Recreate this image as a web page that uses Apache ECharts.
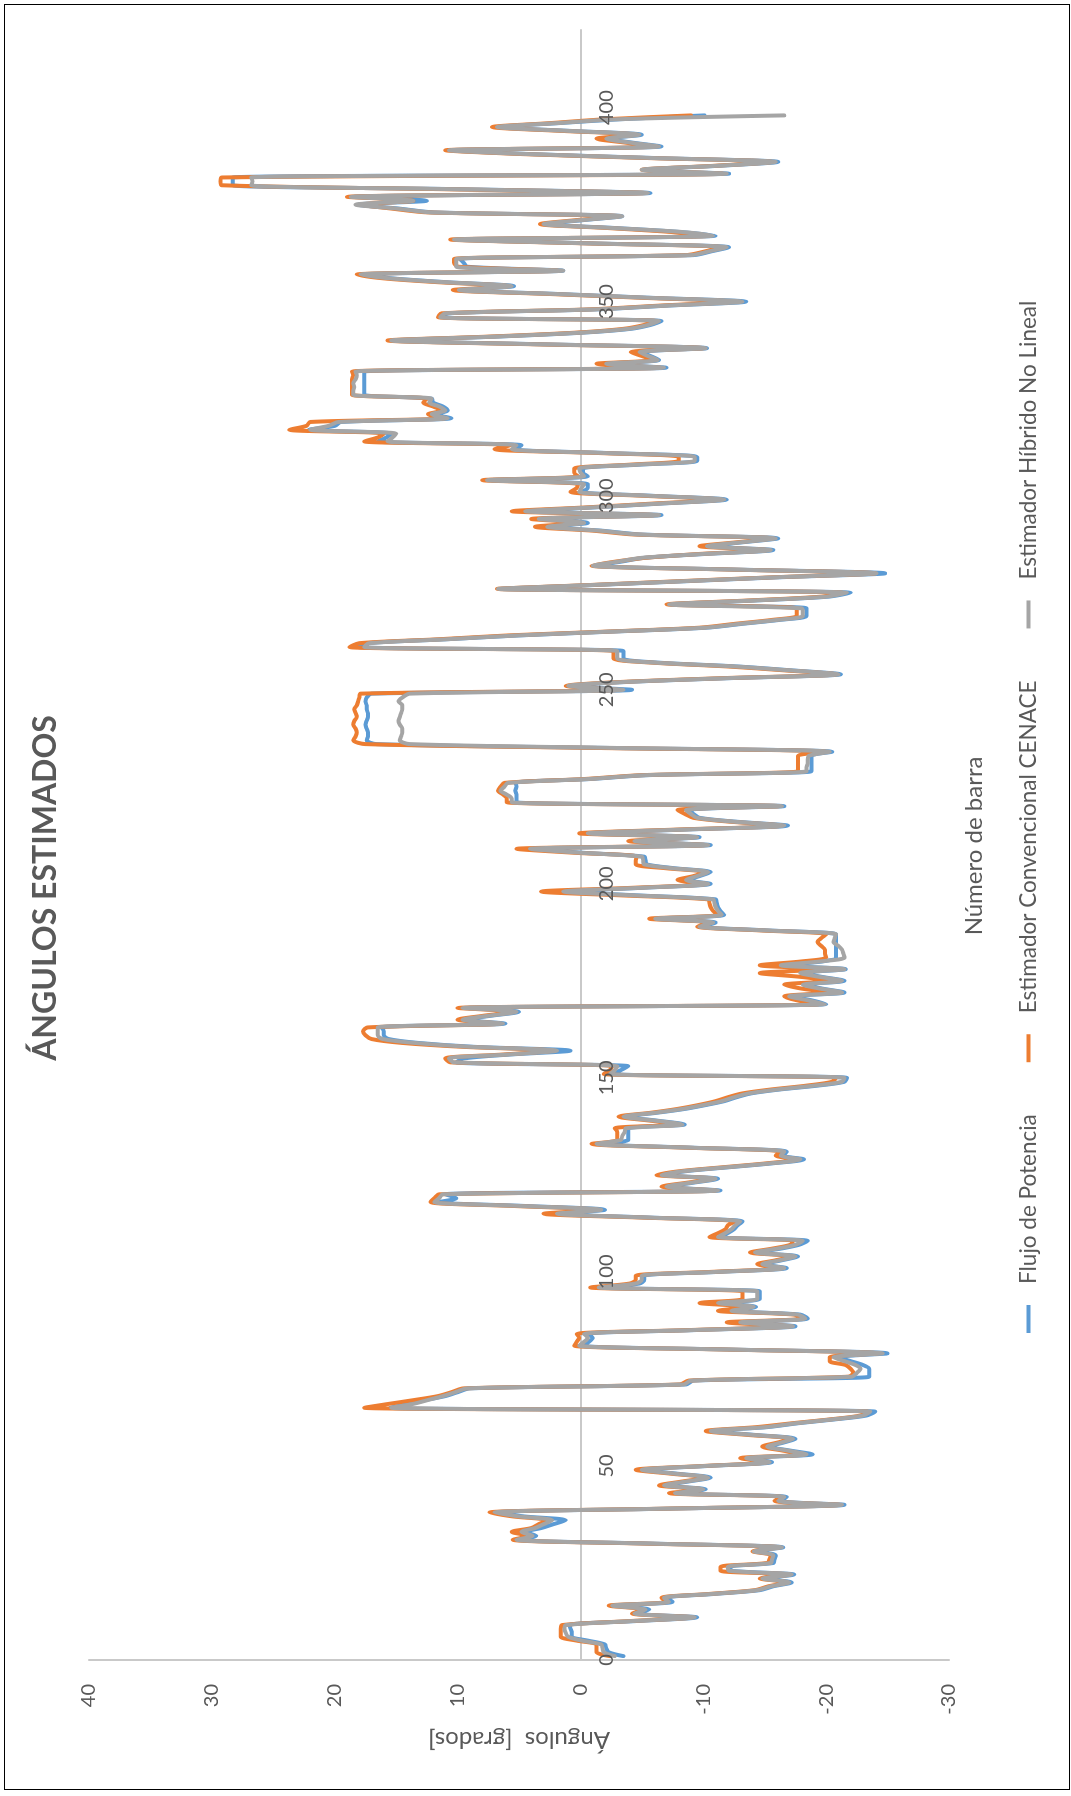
<!DOCTYPE html>
<html>
<head>
<meta charset="utf-8">
<script src="https://cdn.jsdelivr.net/npm/echarts@6/dist/echarts.min.js"></script>
<style>
  html, body { margin: 0; padding: 0; background: #fff; overflow: hidden; width: 1071px; height: 1796px; }
  /* The chart is laid out landscape (1796 x 1071) and turned a quarter turn to stand upright. */
  #chart { position: absolute; left: 0; top: 0; width: 1796px; height: 1071px;
           transform-origin: 0 0; transform: translate(0, 1796px) rotate(-90deg); }
  #frame { position: absolute; left: 4px; top: 4px; width: 1066px; height: 1786px;
           border: 1px solid #000; box-sizing: border-box; pointer-events: none; }
</style>
</head>
<body>
<div id="chart"></div>
<div id="frame"></div>
<script>
// Bus numbers 1..398
const N = 398;
const barras = Array.from({ length: N }, (_, i) => i + 1);

// Axis ticks
const ticksBarra = [0, 50, 100, 150, 200, 250, 300, 350, 400];
const ticksAngulo = [-30, -20, -10, 0, 10, 20, 30, 40];

const nombresSeries = ['Flujo de Potencia', 'Estimador Convencional CENACE', 'Estimador Híbrido No Lineal'];

// Estimated voltage angles [degrees] per bus
const flujoPotencia = [
  -3.5, -2.3, -2.1, -2.0, -0.6, 0.7, 0.7, 0.8, 0.9, -4.3,
  -9.5, -4.6, -5.6, -2.9, -7.5, -7.0, -10.8, -14.6, -15.7, -17.2,
  -15.0, -17.4, -12.3, -12.2, -15.7, -15.8, -15.9, -14.3, -16.5, -5.8,
  5.0, 3.6, 4.5, 3.2, 2.2, 1.2, 4.6, 6.8, -7.2, -21.5,
  -16.3, -16.8, -7.9, -10.2, -7.0, -8.8, -10.6, -7.9, -5.2, -10.4,
  -15.6, -13.7, -18.9, -17.0, -15.4, -16.5, -17.5, -14.2, -10.8, -15.2,
  -17.7, -20.7, -23.3, -24.0, 15.5, 14.0, 12.6, 11.0, 10.0, 9.0,
  -8.6, -9.2, -23.5, -23.5, -23.5, -23.0, -22.0, -21.0, -25.0, -12.2,
  -0.2, -0.7, -1.0, -0.6, -9.2, -17.5, -13.2, -18.5, -17.9, -12.5,
  -14.3, -11.4, -14.6, -14.6, -14.6, -1.8, -4.8, -5.2, -5.2, -11.2,
  -16.8, -15.0, -16.4, -17.7, -14.4, -16.3, -17.8, -18.5, -11.4, -12.0,
  -12.5, -12.8, -13.2, -5.7, 1.6, -2.0, 4.6, 11.5, 10.1, 11.0,
  -11.4, -7.2, -9.2, -11.2, -6.8, -8.7, -12.2, -15.7, -18.2, -16.5,
  -16.8, -9.2, -1.6, -3.9, -3.9, -3.9, -3.9, -8.5, -6.2, -3.7,
  -6.2, -8.5, -10.2, -11.7, -12.7, -13.9, -16.2, -19.3, -21.5, -21.7,
  -2.6, -3.3, -3.9, 10.1, 9.5, 5.8, 0.8, 8.7, 13.2, 15.6,
  16.0, 16.0, 16.2, 6.1, 9.3, 7.3, 5.0, 9.3, -20.0, -18.8,
  -17.2, -21.5, -19.7, -18.3, -21.5, -19.7, -18.1, -21.6, -16.6, -19.7,
  -20.8, -20.8, -20.8, -20.8, -20.8, -20.8, -20.8, -15.2, -9.9, -11.0,
  -6.3, -11.7, -11.4, -11.2, -11.1, -11.0, -4.8, 0.8, -5.2, -10.6,
  -8.8, -9.7, -10.6, -7.7, -5.4, -5.3, -5.2, -0.2, 3.8, -10.6,
  -4.6, -9.7, -0.8, -8.7, -16.9, -12.7, -9.7, -9.2, -8.8, -16.6,
  5.2, 5.2, 5.2, 5.3, 5.2, 5.3, -0.8, -5.5, -18.8, -18.8,
  -18.8, -18.8, -18.8, -20.5, -2.4, 16.6, 17.4, 17.3, 17.3, 17.4,
  17.5, 17.4, 17.3, 17.3, 17.4, 17.4, 17.5, 17.4, 17.0, -4.2,
  0.8, -3.7, -12.2, -21.2, -17.2, -12.8, -6.3, -3.5, -3.5, -3.5,
  18.1, 17.4, 11.0, 5.0, -2.7, -10.3, -13.2, -16.2, -18.4, -18.4,
  -18.4, -7.4, -14.2, -20.2, -22.0, 6.5, -1.2, -8.8, -16.3, -24.8,
  -12.3, -1.2, -3.3, -5.2, -10.2, -15.7, -10.5, -13.2, -16.1, -5.0,
  -1.7, 2.5, -0.6, 3.2, -6.6, 4.3, -1.2, -6.7, -11.9, -5.7,
  -0.1, -0.6, -0.6, 7.3, -0.6, -0.2, -0.2, -4.8, -9.5, -9.5,
  -2.2, 5.3, 4.8, 16.5, 15.8, 15.4, 22.1, 20.0, 19.5, 10.5,
  11.8, 10.8, 11.2, 12.0, 12.1, 17.6, 17.6, 17.6, 17.6, 17.6,
  17.6, 17.6, -7.0, -2.3, -6.4, -5.7, -5.0, -10.3, 2.8, 15.2,
  6.8, -0.1, -4.1, -5.7, -6.6, 11.2, 10.8, -1.2, -7.2, -13.5,
  -5.7, 2.0, 9.7, 5.4, 10.8, 15.3, 17.7, 1.4, 9.2, 9.5,
  9.8, -9.2, -10.7, -12.1, -1.2, 10.1, -11.0, -7.9, -2.7, 2.8,
  -0.2, -3.4, 11.9, 14.8, 18.1, 12.5, 18.5, -5.7, 10.2, 28.3,
  28.3, 28.3, -12.1, -5.2, -11.2, -16.1, -6.2, 3.8, 10.5, -6.6,
  -4.2, -2.3, -5.0, 0.8, 6.6, 1.8, -3.2, -10.1
];

const convencionalCENACE = [
  -2.4, -1.3, -1.3, -1.3, 0.3, 1.6, 1.6, 1.6, 1.5, -3.8,
  -9.1, -4.2, -5.1, -2.3, -7.0, -6.6, -10.4, -14.2, -15.3, -16.8,
  -14.6, -17.0, -11.4, -11.4, -15.2, -15.4, -15.5, -14.0, -16.2, -5.2,
  5.5, 4.3, 5.6, 4.0, 3.4, 2.7, 5.5, 7.4, -6.8, -21.1,
  -15.8, -16.4, -7.2, -9.8, -6.4, -8.3, -10.2, -7.4, -4.5, -10.0,
  -15.2, -13.0, -18.2, -16.4, -14.8, -16.0, -17.1, -13.6, -10.2, -14.3,
  -17.2, -20.3, -22.8, -23.4, 17.6, 15.6, 13.5, 11.6, 10.5, 9.5,
  -8.1, -8.8, -21.8, -22.2, -22.0, -21.6, -20.3, -20.3, -24.2, -11.8,
  0.5, 0.3, 0.1, 0.3, -8.7, -17.0, -11.9, -18.0, -17.4, -11.2,
  -13.6, -9.7, -13.2, -13.2, -13.2, -0.8, -4.0, -4.5, -4.5, -10.6,
  -16.3, -14.4, -15.9, -17.2, -13.8, -15.6, -17.1, -17.3, -10.5, -11.2,
  -11.8, -12.0, -12.6, -5.0, 3.0, -1.2, 5.5, 12.2, 11.9, 11.5,
  -11.0, -6.6, -8.7, -10.8, -6.2, -8.2, -11.7, -15.2, -17.6, -15.9,
  -16.3, -8.7, -0.9, -3.0, -3.0, -3.0, -2.8, -8.0, -5.6, -3.1,
  -5.7, -7.9, -9.6, -11.0, -12.0, -13.2, -15.5, -18.4, -20.5, -20.8,
  -1.9, -2.4, -2.6, 10.6, 11.0, 6.4, 2.3, 9.6, 14.5, 17.0,
  17.5, 17.7, 17.3, 6.6, 10.0, 7.9, 5.6, 10.0, -19.5, -17.6,
  -16.6, -20.2, -18.0, -16.6, -20.2, -18.0, -14.6, -20.0, -14.6, -18.0,
  -20.0, -19.9, -19.9, -19.6, -19.3, -19.6, -20.0, -14.6, -9.5, -10.5,
  -5.6, -11.2, -10.8, -10.6, -10.5, -10.4, -3.5, 3.2, -4.4, -10.2,
  -7.9, -9.2, -10.1, -7.0, -4.5, -4.5, -4.6, 0.5, 5.2, -10.2,
  -3.9, -9.2, 0.1, -8.0, -16.4, -12.2, -9.2, -8.5, -7.9, -16.2,
  6.0, 6.0, 6.3, 6.7, 6.5, 6.2, -0.3, -5.0, -17.7, -17.7,
  -17.7, -17.7, -17.7, -20.0, -1.5, 17.5, 18.5, 18.3, 18.2, 18.3,
  18.5, 18.4, 18.2, 18.3, 18.4, 18.2, 18.1, 18.0, 17.9, -3.0,
  1.2, -3.2, -11.6, -20.8, -16.6, -12.0, -5.8, -2.7, -2.7, -2.7,
  18.8, 18.0, 11.6, 5.9, -2.2, -9.7, -12.6, -15.6, -17.6, -17.6,
  -17.6, -7.0, -13.6, -19.6, -21.4, 6.8, -0.8, -8.2, -15.8, -24.0,
  -11.8, -0.9, -2.8, -5.3, -9.7, -15.2, -9.7, -12.7, -15.6, -4.4,
  -1.0, 3.7, 0.2, 4.0, -6.0, 5.6, -0.5, -6.0, -11.3, -5.0,
  0.8, 0.3, 0.2, 8.0, 0.2, 0.5, 0.5, -4.0, -8.0, -8.0,
  -1.5, 7.0, 5.7, 17.6, 16.5, 16.0, 23.7, 22.3, 22.0, 11.0,
  12.4, 11.3, 12.0, 12.8, 12.5, 18.6, 18.6, 18.6, 18.6, 18.6,
  18.5, 18.6, -6.5, -1.3, -5.9, -5.0, -4.1, -10.0, 3.5, 15.7,
  7.5, 0.5, -3.5, -5.2, -6.2, 11.6, 11.3, -0.6, -6.5, -12.3,
  -5.0, 2.7, 10.4, 5.9, 11.5, 16.0, 18.2, 1.8, 9.9, 10.3,
  10.3, -8.6, -10.2, -11.5, -0.7, 10.6, -10.5, -7.2, -2.1, 3.3,
  0.4, -3.1, 12.4, 15.4, 17.8, 13.6, 19.0, -5.3, 11.5, 29.2,
  29.3, 29.2, -11.6, -5.0, -10.8, -15.6, -5.6, 4.5, 11.0, -6.0,
  -3.6, -1.3, -4.5, 1.5, 7.2, 2.5, -2.0, -9.0
];

const hibridoNoLineal = [
  -2.8, -1.9, -1.8, -1.7, -0.1, 1.0, 1.2, 1.3, 1.2, -4.0,
  -9.3, -4.4, -5.3, -2.6, -7.2, -6.8, -10.6, -14.4, -15.5, -17.0,
  -14.8, -17.2, -12.1, -12.0, -15.5, -15.6, -15.7, -14.1, -16.4, -5.6,
  5.2, 3.9, 4.8, 3.7, 3.0, 2.3, 5.0, 7.0, -7.0, -21.3,
  -16.1, -16.6, -7.7, -10.0, -6.8, -8.6, -10.4, -7.7, -5.0, -10.2,
  -15.4, -13.5, -18.4, -16.8, -15.2, -16.3, -17.3, -14.0, -10.6, -15.0,
  -17.5, -20.5, -23.0, -23.6, 15.4, 13.6, 12.4, 11.2, 10.2, 9.2,
  -8.4, -9.0, -22.1, -22.5, -22.8, -22.4, -21.5, -20.6, -24.6, -12.0,
  0.1, -0.3, -0.6, -0.3, -9.0, -17.3, -13.0, -18.3, -17.7, -12.3,
  -14.1, -11.2, -14.4, -14.4, -14.4, -1.5, -4.5, -5.0, -5.0, -11.0,
  -16.6, -14.8, -16.2, -17.5, -14.2, -16.0, -17.5, -18.1, -11.2, -11.8,
  -12.3, -12.6, -13.0, -5.5, 1.9, -1.7, 5.0, 11.9, 11.5, 11.2,
  -11.2, -7.0, -9.0, -11.0, -6.6, -8.5, -12.0, -15.5, -17.9, -16.3,
  -16.6, -9.0, -1.3, -3.3, -3.4, -3.6, -3.7, -8.3, -6.0, -3.5,
  -6.0, -8.3, -10.0, -11.5, -12.5, -13.7, -16.0, -19.0, -21.3, -21.5,
  -2.4, -2.8, -3.0, 10.3, 10.7, 6.0, 1.9, 9.0, 13.5, 16.1,
  16.5, 16.5, 16.5, 6.3, 9.6, 7.5, 5.2, 9.6, -19.9, -18.5,
  -17.0, -21.3, -19.5, -18.1, -21.3, -19.5, -17.9, -21.5, -16.3, -19.5,
  -21.5, -21.4, -21.3, -21.0, -20.6, -20.7, -20.8, -15.0, -9.7, -10.8,
  -6.1, -11.5, -11.2, -11.0, -10.9, -10.8, -4.5, 1.4, -5.0, -10.4,
  -8.6, -9.5, -10.4, -7.5, -5.2, -5.1, -5.0, 0.0, 4.1, -10.4,
  -4.4, -9.5, -0.6, -8.5, -16.6, -12.5, -9.5, -9.0, -8.6, -16.4,
  5.6, 5.6, 6.0, 6.5, 6.2, 5.9, -0.6, -5.3, -18.4, -18.4,
  -18.5, -18.5, -18.6, -20.3, -3.0, 13.9, 14.7, 14.6, 14.5, 14.5,
  14.7, 14.8, 14.7, 14.6, 14.5, 14.5, 14.8, 14.5, 13.9, -3.5,
  1.0, -3.5, -12.0, -21.0, -17.0, -12.6, -6.0, -3.0, -3.0, -3.0,
  17.6, 17.2, 11.0, 5.2, -2.5, -10.1, -13.0, -16.0, -18.1, -18.1,
  -18.0, -7.2, -14.0, -20.0, -21.7, 6.7, -1.0, -8.5, -16.0, -24.1,
  -12.0, -1.0, -3.0, -5.0, -10.0, -15.5, -10.3, -13.0, -15.9, -4.8,
  -1.5, 2.7, -0.3, 3.4, -6.4, 4.5, -1.0, -6.5, -11.7, -5.5,
  0.1, -0.1, -0.3, 7.6, -0.3, 0.0, 0.1, -4.5, -9.3, -9.3,
  -2.0, 5.6, 5.2, 15.7, 15.3, 15.0, 22.0, 20.5, 19.7, 10.8,
  12.1, 11.0, 11.5, 12.3, 12.1, 18.5, 18.5, 18.4, 18.5, 18.3,
  18.2, 18.3, -6.8, -2.1, -6.3, -5.5, -4.8, -10.2, 3.0, 15.4,
  7.0, 0.1, -3.9, -5.5, -6.4, 11.4, 11.0, -1.0, -7.0, -13.2,
  -5.5, 2.2, 9.9, 5.6, 11.0, 15.5, 17.9, 1.4, 10.1, 10.1,
  10.1, -9.0, -10.5, -11.9, -1.0, 10.3, -10.8, -8.1, -2.5, 3.0,
  0.0, -3.4, 12.1, 15.0, 18.3, 13.6, 18.7, -5.5, 10.6, 26.8,
  26.7, 26.8, -11.9, -5.0, -11.0, -15.9, -6.0, 4.0, 10.7, -6.4,
  -4.0, -2.1, -4.8, 1.0, 6.8, 2.0, -3.0, -16.6
];

const colores = ['#5B9BD5', '#ED7D31', '#A5A5A5'];
const textoGris = '#595959';
const colorEje = '#C9C9C9';
const fuente = 'Lato, "Noto Sans", sans-serif';

// Plot box of the landscape layout
const GRID = { left: 136, right: 30, top: 89, bottom: 122 };
const ALTO = 1071;
const alturaGrid = ALTO - GRID.top - GRID.bottom;
const yMin = ticksAngulo[0];
const yMax = ticksAngulo[ticksAngulo.length - 1];
// distance from the bottom edge of the plot up to the 0° line
const desdeAbajoACero = alturaGrid * (0 - yMin) / (yMax - yMin);

function pares(valores) {
  return barras.map((b, i) => [b, valores[i]]);
}

function serie(nombre, valores, color) {
  return {
    name: nombre,
    type: 'line',
    xAxisIndex: 0,
    data: pares(valores),
    showSymbol: false,
    symbol: 'none',
    smooth: 0.3,
    lineStyle: { color: color, width: 4, cap: 'round', join: 'round' },
    itemStyle: { color: color },
    emphasis: { disabled: true }
  };
}

// Bus-number axis sitting on the 0° line; the line stays under the traces,
// the numbers are drawn by a twin axis above them.
function ejeBarra(conLinea) {
  return {
    type: 'value',
    position: 'bottom',
    offset: -desdeAbajoACero,
    min: ticksBarra[0],
    max: 420,
    interval: ticksBarra[1] - ticksBarra[0],
    z: conLinea ? 0 : 10,
    axisLine: { show: conLinea, onZero: false, lineStyle: { color: colorEje, width: 2 } },
    axisTick: { show: false },
    splitLine: { show: false },
    axisLabel: {
      show: !conLinea,
      color: textoGris, fontSize: 20, fontFamily: fuente, margin: 16,
      showMaxLabel: false,
      formatter: v => (ticksBarra.includes(v) ? String(v) : '')
    }
  };
}

const chart = echarts.init(document.getElementById('chart'), null, { renderer: 'canvas' });

chart.setOption({
  animation: false,
  backgroundColor: '#ffffff',
  textStyle: { fontFamily: fuente },
  grid: Object.assign({ containLabel: false }, GRID),
  xAxis: [ejeBarra(true), ejeBarra(false)],
  yAxis: {
    type: 'value',
    min: yMin,
    max: yMax,
    interval: 10,
    name: 'Ángulos  [grados]',
    nameLocation: 'middle',
    nameGap: 68,
    nameTextStyle: { color: textoGris, fontSize: 24, fontFamily: fuente },
    axisLine: { show: true, onZero: false, lineStyle: { color: colorEje, width: 2 } },
    axisTick: { show: false },
    splitLine: { show: false },
    axisLabel: { color: textoGris, fontSize: 20, fontFamily: fuente, margin: 24 }
  },
  legend: {
    data: nombresSeries,
    left: 458,
    top: 1012,
    icon: 'rect',
    itemWidth: 28,
    itemHeight: 4,
    itemGap: 52,
    textStyle: { color: textoGris, fontSize: 22.5, fontFamily: fuente, padding: [0, 0, 0, 16] }
  },
  graphic: [
    {
      type: 'text', x: 908, y: 30,
      style: { text: 'ÁNGULOS ESTIMADOS', fill: textoGris, font: 'bold 32px ' + fuente,
               textAlign: 'center', textVerticalAlign: 'top' }
    },
    {
      type: 'text', x: 950, y: 974,
      style: { text: 'Número de barra', fill: textoGris, font: '24px ' + fuente,
               textAlign: 'center', textVerticalAlign: 'middle' }
    }
  ],
  series: [
    serie(nombresSeries[0], flujoPotencia, colores[0]),
    serie(nombresSeries[1], convencionalCENACE, colores[1]),
    serie(nombresSeries[2], hibridoNoLineal, colores[2])
  ]
});
</script>
</body>
</html>
